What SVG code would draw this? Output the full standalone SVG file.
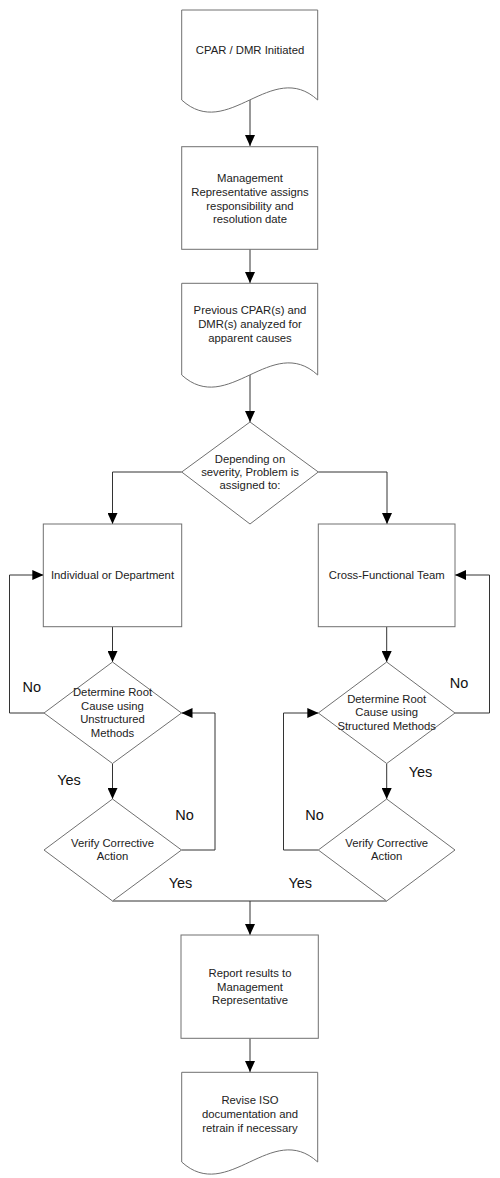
<svg xmlns="http://www.w3.org/2000/svg" width="500" height="1178" viewBox="0 0 500 1178">
<style>
.shape{fill:#ffffff;stroke:#707070;stroke-width:1}
.conn{fill:none;stroke:#333333;stroke-width:1}
.t{font-family:"Liberation Sans",Arial,sans-serif;font-size:11.3px;fill:#222222;text-anchor:middle}
.lbl{font-family:"Liberation Sans",Arial,sans-serif;font-size:14.5px;fill:#111111;text-anchor:middle}
</style>
<defs>
<marker id="arr" markerUnits="userSpaceOnUse" markerWidth="11" markerHeight="10" refX="11" refY="5" orient="auto">
<path d="M0,0 L11,5 L0,10 Z" fill="#000000"/>
</marker>
</defs>
<rect width="500" height="1178" fill="#ffffff"/>
<g id="connectors">
<path class="conn" d="M250,100 V146" marker-end="url(#arr)"/>
<path class="conn" d="M250,249 V283" marker-end="url(#arr)"/>
<path class="conn" d="M250,375 V422" marker-end="url(#arr)"/>
<path class="conn" d="M181.7,472 H112.5 V524" marker-end="url(#arr)"/>
<path class="conn" d="M318.3,472 H387 V524" marker-end="url(#arr)"/>
<path class="conn" d="M112.5,627 V662" marker-end="url(#arr)"/>
<path class="conn" d="M386.7,627 V662" marker-end="url(#arr)"/>
<path class="conn" d="M112.5,763.5 V799" marker-end="url(#arr)"/>
<path class="conn" d="M386.7,763.5 V799" marker-end="url(#arr)"/>
<path class="conn" d="M44,713 H9.5 V575 H43.3" marker-end="url(#arr)"/>
<path class="conn" d="M455,713 H489.5 V575 H455" marker-end="url(#arr)"/>
<path class="conn" d="M181.5,850 H215 V713 H181.5" marker-end="url(#arr)"/>
<path class="conn" d="M318.3,850 H283.5 V713 H318.3" marker-end="url(#arr)"/>
<path class="conn" d="M112.5,901 H386.7"/>
<path class="conn" d="M250,901 V935" marker-end="url(#arr)"/>
<path class="conn" d="M250,1038.3 V1072" marker-end="url(#arr)"/>
</g>
<g id="n1">
<path class="shape" d="M181.7,10 H317.7 V100 C271.7,58 227.7,142 181.7,100 Z"/>
<text class="t" x="250" y="54">CPAR / DMR Initiated</text>
</g>
<g id="n2">
<rect class="shape" x="181.7" y="146.7" width="136" height="102.6"/>
<text class="t" x="250" y="182">Management</text>
<text class="t" x="250" y="196">Representative assigns</text>
<text class="t" x="250" y="209.5">responsibility and</text>
<text class="t" x="250" y="223">resolution date</text>
</g>
<g id="n3">
<path class="shape" d="M181.7,283.3 H317.7 V375 C271.7,333 227.7,417 181.7,375 Z"/>
<text class="t" x="250" y="314">Previous CPAR(s) and</text>
<text class="t" x="250" y="328">DMR(s) analyzed for</text>
<text class="t" x="250" y="342">apparent causes</text>
</g>
<g id="n4">
<polygon class="shape" points="250,422 318.3,472 250,524 181.7,472"/>
<text class="t" x="250" y="463">Depending on</text>
<text class="t" x="250" y="476">severity, Problem is</text>
<text class="t" x="250" y="489">assigned to:</text>
</g>
<g id="n5">
<rect class="shape" x="43.3" y="524" width="138.4" height="102.7"/>
<text class="t" x="112.5" y="579">Individual or Department</text>
</g>
<g id="n6">
<rect class="shape" x="318.3" y="524" width="136.7" height="102.7"/>
<text class="t" x="386.7" y="579">Cross-Functional Team</text>
</g>
<g id="n7">
<polygon class="shape" points="112.5,662 181.5,713 112.5,763.5 44,713"/>
<text class="t" x="112.5" y="696">Determine Root</text>
<text class="t" x="112.5" y="709.5">Cause using</text>
<text class="t" x="112.5" y="723">Unstructured</text>
<text class="t" x="112.5" y="736.5">Methods</text>
</g>
<g id="n8">
<polygon class="shape" points="386.7,662 455,713 386.7,763.5 318.3,713"/>
<text class="t" x="386.7" y="703">Determine Root</text>
<text class="t" x="386.7" y="716.3">Cause using</text>
<text class="t" x="386.7" y="729.7">Structured Methods</text>
</g>
<g id="n9">
<polygon class="shape" points="112.5,799 181.5,850 112.5,901 44,850"/>
<text class="t" x="112.5" y="846.7">Verify Corrective</text>
<text class="t" x="112.5" y="860">Action</text>
</g>
<g id="n10">
<polygon class="shape" points="386.7,799 455,850 386.7,901 318.3,850"/>
<text class="t" x="386.7" y="846.7">Verify Corrective</text>
<text class="t" x="386.7" y="860">Action</text>
</g>
<g id="n11">
<rect class="shape" x="181" y="935" width="137.3" height="103.3"/>
<text class="t" x="250" y="976.7">Report results to</text>
<text class="t" x="250" y="990.5">Management</text>
<text class="t" x="250" y="1004">Representative</text>
</g>
<g id="n12">
<path class="shape" d="M181.7,1072.3 H317.7 V1162 C271.7,1120 227.7,1204 181.7,1162 Z"/>
<text class="t" x="250" y="1104">Revise ISO</text>
<text class="t" x="250" y="1118">documentation and</text>
<text class="t" x="250" y="1131.7">retrain if necessary</text>
</g>
<g id="labels">
<text class="lbl" x="31.7" y="692">No</text>
<text class="lbl" x="69" y="785">Yes</text>
<text class="lbl" x="184.5" y="820">No</text>
<text class="lbl" x="180.5" y="888">Yes</text>
<text class="lbl" x="459" y="687.5">No</text>
<text class="lbl" x="420.5" y="777">Yes</text>
<text class="lbl" x="314.5" y="820">No</text>
<text class="lbl" x="300.3" y="888">Yes</text>
</g>
</svg>
